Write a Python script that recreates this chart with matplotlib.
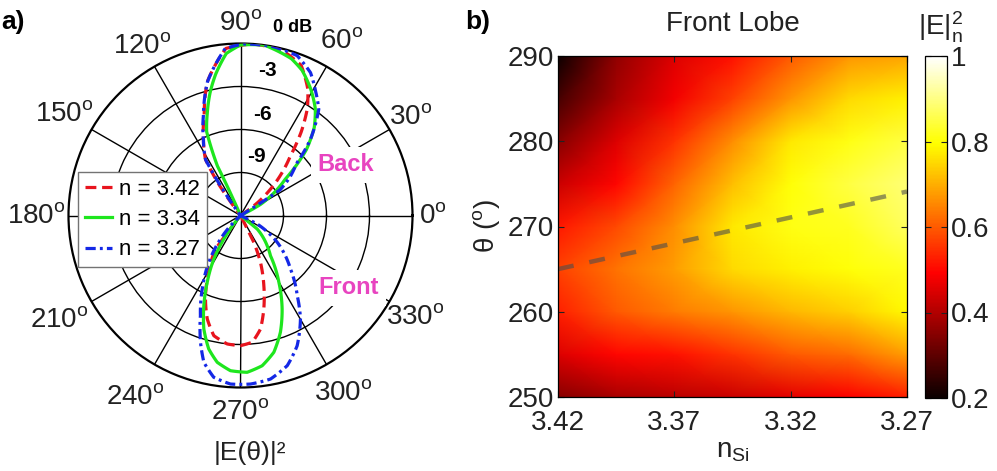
import numpy as np
import matplotlib
matplotlib.use('Agg')
import matplotlib.pyplot as plt

plt.rcParams['font.family'] = ['Liberation Sans', 'DejaVu Sans']
plt.rcParams['mathtext.fontset'] = 'custom'
plt.rcParams['mathtext.rm'] = 'Liberation Sans'
plt.rcParams['mathtext.it'] = 'Liberation Sans:italic'
plt.rcParams['mathtext.bf'] = 'Liberation Sans:bold'

#### a) far field pattern, angle (deg) / level (dB)
ang_342 = [33, 37, 41, 44, 50, 54, 58, 62, 68, 76, 86, 95, 104, 110, 116, 122, 125, 127,
           232, 233.3, 240.8, 246.4, 252.2, 257.5, 264.1, 270, 275.3, 280, 284, 288.4, 293.1, 296.4, 297]
db_342 = [-12, -10.5, -9.3, -8.4, -6.6, -4.8, -3.2, -2.0, -0.7, -0.1, 0, -0.3, -2.4, -4.6, -6.1, -7.4, -9.5, -12,
          -12, -9.1, -7.46, -5.9, -4.42, -3.41, -2.99, -2.92, -3.12, -3.96, -5.28, -6.84, -8.45, -9.9, -12]

ang_334 = [26, 29, 34, 39, 45, 50, 55, 61, 67, 72, 82, 90, 95, 100, 104, 108, 112, 115, 114, 113,
           231, 231.8, 234.6, 238.5, 243.5, 247.9, 252.1, 256.6, 261, 266.3, 272.4, 278.2, 283.7, 288.9,
           294, 299.8, 306.7, 311.5, 321, 322]
db_334 = [-12, -10.4, -9.2, -8.0, -5.5, -4.0, -2.9, -1.9, -1.0, -0.5, 0, -0.1, -0.65, -2.0, -3.2, -4.5, -5.7, -8.2, -10.8, -12,
          -12, -11.2, -10.0, -8.44, -6.8, -5.2, -3.68, -2.43, -1.63, -1.15, -1.05, -1.41, -2.18, -3.4,
          -4.86, -6.6, -8.5, -9.2, -10.5, -12]

ang_327 = [31, 33, 38, 42.8, 47.4, 53.6, 58.7, 63.9, 70.5, 79, 89, 95.2, 103.9, 110.5, 116, 122, 124, 126,
           225, 225.6, 229.6, 235.9, 242.5, 248.2, 252.5, 256, 260.6, 266.6, 273.4, 280.4, 287.3, 293.5,
           300.1, 305.3, 313.1, 323.9, 333, 334]
db_327 = [-12, -8.7, -7.6, -6.7, -4.8, -2.8, -1.9, -0.9, -0.17, 0, -0.03, -0.3, -2.4, -4.6, -6.1, -7.4, -9.5, -12,
          -12, -11.0, -9.85, -8.06, -6.22, -4.47, -2.72, -1.44, -0.56, -0.22, -0.22, -0.4, -1.03, -2.09,
          -3.66, -5.15, -6.9, -8.83, -10.7, -12]

pattern_labels = ['n = 3.42', 'n = 3.34', 'n = 3.27']
theta_ticks = [0, 30, 60, 90, 120, 150, 180, 210, 240, 270, 300, 330]
db_rings = [-9, -6, -3]
ring_labels = ['-9', '-6', '-3']

#### b) front lobe |E|^2 normalised, columns n_Si, rows theta
n_si = [3.42, 3.395, 3.37, 3.345, 3.32, 3.295, 3.27]
theta_map = [250, 255, 260, 265, 270, 275, 280, 285, 290]
E_map = [[0.35, 0.39, 0.41, 0.43, 0.46, 0.49, 0.53],
         [0.45, 0.50, 0.51, 0.55, 0.60, 0.62, 0.68],
         [0.53, 0.60, 0.64, 0.67, 0.71, 0.74, 0.79],
         [0.57, 0.63, 0.68, 0.75, 0.78, 0.80, 0.82],
         [0.52, 0.58, 0.66, 0.77, 0.81, 0.82, 0.87],
         [0.43, 0.50, 0.61, 0.72, 0.80, 0.85, 0.89],
         [0.35, 0.45, 0.55, 0.66, 0.77, 0.81, 0.85],
         [0.27, 0.39, 0.48, 0.57, 0.67, 0.75, 0.78],
         [0.20, 0.36, 0.45, 0.51, 0.60, 0.67, 0.69]]
peak_n = [3.42, 3.27]
peak_theta = [265.0, 274.1]
n_ticks = [3.42, 3.37, 3.32, 3.27]
map_theta_ticks = [250, 260, 270, 280, 290]
cb_ticks = [0.2, 0.4, 0.6, 0.8, 1.0]
cb_tick_labels = ['0.2', '0.4', '0.6', '0.8', '1']

W = 997.
H = 471.
def fx(px):
    return px/W
def fy(py):
    return 1.0 - py/H

fig = plt.figure(figsize=(W/100., H/100.), dpi=100)

#### polar plot
axp = fig.add_axes([fx(68.5), fy(387.5), 344/W, 344/H], projection='polar')
styles = [dict(color='#e8141e', ls=(0, (3.4, 1.8))),
          dict(color='#1ee61e', ls='-'),
          dict(color='#1428e6', ls=(0, (3.2, 1.3, 0.9, 1.3)))]
for tmp_ang, tmp_db, tmp_style, tmp_label in zip([ang_342, ang_334, ang_327],
                                                  [db_342, db_334, db_327],
                                                  styles, pattern_labels):
    ln, = axp.plot(np.radians(tmp_ang), tmp_db, lw=2.3, label=tmp_label, zorder=3, **tmp_style)
    # let the polar transform draw each segment as a curve in (theta, r)
    ln.get_path()._interpolation_steps = 24
axp.set_ylim(-12, 0)
axp.set_thetagrids(theta_ticks, labels=['']*len(theta_ticks))
axp.set_rgrids(db_rings, labels=['']*len(db_rings))
axp.grid(True, color='k', lw=1.0, ls='-')
axp.spines['polar'].set_linewidth(1.6)
axp.set_xticks(np.radians(np.arange(0, 360, 5)), minor=True)
axp.tick_params(axis='x', which='both', direction='in', length=5, width=1, color='k')
axp.tick_params(axis='y', length=0)

lab_r = {0: 1.12, 30: 1.14, 60: 1.17, 90: 1.12, 120: 1.14, 150: 1.185,
         180: 1.19, 210: 1.215, 240: 1.22, 270: 1.145, 300: 1.19, 330: 1.175}
for t in theta_ticks:
    axp.text(np.radians(t), -12 + 12*lab_r[t], r'$\mathregular{%d^o}$' % t, fontsize=20,
             ha='center', va='center', color='#222222')

ring_pos = {'-9': (74.8, -7.7), '-6': (77.7, -4.8), '-3': (79.4, -1.7)}
for tmp_label in ring_labels:
    a, r = ring_pos[tmp_label]
    axp.text(np.radians(a), r, tmp_label, fontsize=15, fontweight='bold',
             ha='center', va='center', zorder=4)
axp.text(np.radians(74.5), 1.6, '0 dB', fontsize=13, fontweight='bold', ha='center', va='center')

leg = axp.legend(loc='upper left', bbox_to_anchor=(fx(78), fy(172)), bbox_transform=fig.transFigure,
                 fontsize=16, fancybox=False, edgecolor='0.45', framealpha=1, borderpad=0.3,
                 labelspacing=0.42, handlelength=1.25, handletextpad=0.3, borderaxespad=0)
leg.get_frame().set_linewidth(1.0)

fig.text(fx(346), fy(165), 'Back', fontsize=17, fontweight='bold', color='#e844c0', ha='center', va='center',
         bbox=dict(facecolor='white', edgecolor='none', pad=5))
fig.text(fx(349), fy(288), 'Front', fontsize=17, fontweight='bold', color='#e844c0', ha='center', va='center',
         bbox=dict(facecolor='white', edgecolor='none', pad=5))
fig.text(fx(250), fy(453), '|E(θ)|²', fontsize=19, ha='center', va='center', color='#222222')
fig.text(fx(13), fy(22), 'a)', fontsize=19, fontweight='bold', ha='center', va='center')
fig.text(fx(478), fy(22), 'b)', fontsize=19, fontweight='bold', ha='center', va='center')

#### heat map
axh = fig.add_axes([fx(558), fy(397), 349/W, 341/H])
pc = axh.pcolormesh(n_si, theta_map, np.array(E_map), cmap='hot', vmin=0.2, vmax=1.0, shading='gouraud')
axh.plot(peak_n, peak_theta, color='0.3', alpha=0.6, lw=3.2, dashes=(3.6, 3.6))
axh.set_xlim(3.42, 3.27)
axh.set_ylim(250, 290)
axh.set_xticks(n_ticks)
axh.set_xticklabels(['%.2f' % x for x in n_ticks])
axh.set_yticks(map_theta_ticks)
axh.tick_params(direction='in', top=True, right=True, labelsize=20, length=4, width=0.8,
                colors='#222222', pad=3)
axh.tick_params(axis='x', pad=9)
for sp in axh.spines.values():
    sp.set_linewidth(0.9)
fig.text(fx(733), fy(24), 'Front Lobe', fontsize=20, ha='center', va='center', color='#222222')
fig.text(fx(733), fy(451), r'$\mathregular{n_{Si}}$', fontsize=20, ha='center', va='center', color='#222222')
fig.text(fx(486), fy(226), r'θ ($\mathregular{^o}$)', fontsize=20, rotation=90, ha='center', va='center',
         color='#222222')

cax = fig.add_axes([fx(925), fy(398), 22/W, 342/H])
cb = fig.colorbar(pc, cax=cax)
cb.set_ticks(cb_ticks)
cb.set_ticklabels(cb_tick_labels)
cax.tick_params(direction='in', left=True, right=True, labelsize=20, length=4, width=0.8,
                colors='#222222', pad=3)
cb.outline.set_linewidth(0.9)
fig.text(fx(941), fy(27), r'$\mathregular{|E|_n^2}$', fontsize=20, ha='center', va='center', color='#222222')

fig.savefig('out.png', dpi=100)
